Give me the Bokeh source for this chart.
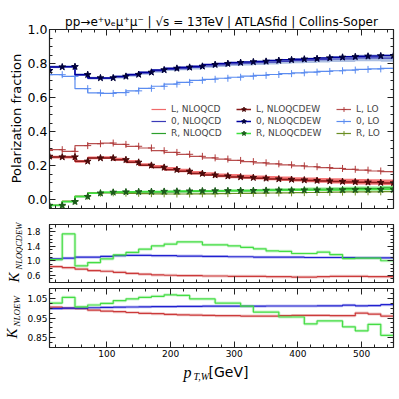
import math
from bokeh.plotting import figure
from bokeh.layouts import column, row
from bokeh.models import (Range1d, SingleIntervalTicker, FixedTicker, LinearAxis, Legend,
                          LegendItem, CustomJSTickFormatter, NumeralTickFormatter)
from bokeh.core.properties import value
from bokeh.embed import file_html
from bokeh.resources import INLINE

# ---------------- data ----------------
pt_w = [10, 30, 50, 70, 90, 110, 130, 150, 170, 190, 210, 230, 250, 270, 290,
        310, 330, 350, 370, 390, 410, 430, 450, 470, 490, 510, 530, 550]

# Polarization fractions
L_qcd = [0.255, 0.251, 0.252, 0.227, 0.247, 0.248, 0.239, 0.225, 0.207, 0.196, 0.183, 0.173, 0.160, 0.151,
         0.145, 0.140, 0.136, 0.132, 0.128, 0.125, 0.121, 0.118, 0.115, 0.112, 0.109, 0.107, 0.105, 0.104]
L_qcd_err = [0.008, 0.008, 0.008, 0.008, 0.008, 0.008, 0.009, 0.009, 0.009, 0.009, 0.010, 0.010, 0.010, 0.011,
             0.011, 0.012, 0.012, 0.012, 0.013, 0.013, 0.013, 0.014, 0.014, 0.015, 0.015, 0.016, 0.016, 0.016]
Z_qcd = [0.760, 0.781, 0.782, 0.735, 0.715, 0.714, 0.722, 0.732, 0.744, 0.757, 0.766, 0.771, 0.777, 0.786,
         0.792, 0.798, 0.802, 0.805, 0.809, 0.813, 0.817, 0.820, 0.823, 0.827, 0.828, 0.833, 0.834, 0.832]
Z_qcd_err = [0.008, 0.008, 0.008, 0.008, 0.008, 0.008, 0.009, 0.009, 0.009, 0.010, 0.010, 0.010, 0.011, 0.011,
             0.012, 0.012, 0.013, 0.013, 0.014, 0.014, 0.015, 0.016, 0.016, 0.017, 0.018, 0.019, 0.020, 0.021]
R_qcd = [-0.031, -0.031, -0.009, 0.020, 0.040, 0.044, 0.046, 0.046, 0.047, 0.047, 0.048, 0.049, 0.051, 0.051,
         0.053, 0.054, 0.054, 0.057, 0.058, 0.060, 0.061, 0.063, 0.063, 0.064, 0.066, 0.068, 0.067, 0.071]
R_qcd_err = [0.004, 0.004, 0.004, 0.004, 0.004, 0.005, 0.005, 0.005, 0.005, 0.006, 0.006, 0.006, 0.007, 0.007,
             0.007, 0.008, 0.008, 0.008, 0.009, 0.009, 0.009, 0.010, 0.010, 0.010, 0.011, 0.011, 0.012, 0.012]

L_ew = [0.256, 0.252, 0.252, 0.227, 0.246, 0.246, 0.236, 0.221, 0.203, 0.191, 0.178, 0.168, 0.155, 0.146,
        0.140, 0.135, 0.131, 0.127, 0.123, 0.120, 0.117, 0.114, 0.111, 0.108, 0.106, 0.104, 0.102, 0.100]
Z_ew = [0.759, 0.780, 0.782, 0.735, 0.716, 0.716, 0.725, 0.736, 0.749, 0.763, 0.772, 0.778, 0.784, 0.794,
        0.800, 0.806, 0.810, 0.813, 0.818, 0.822, 0.826, 0.829, 0.833, 0.837, 0.840, 0.843, 0.845, 0.847]
R_ew = [-0.032, -0.032, -0.010, 0.020, 0.040, 0.045, 0.047, 0.048, 0.049, 0.050, 0.051, 0.052, 0.053, 0.053,
        0.054, 0.055, 0.055, 0.056, 0.057, 0.057, 0.058, 0.058, 0.059, 0.059, 0.060, 0.060, 0.061, 0.061]

L_lo = [0.290, 0.295, 0.285, 0.319, 0.330, 0.334, 0.326, 0.315, 0.305, 0.289, 0.279, 0.268, 0.256, 0.247,
        0.240, 0.232, 0.225, 0.218, 0.212, 0.206, 0.200, 0.195, 0.190, 0.185, 0.180, 0.175, 0.170, 0.166]
Z_lo = [0.735, 0.735, 0.725, 0.653, 0.628, 0.625, 0.630, 0.640, 0.655, 0.667, 0.680, 0.690, 0.702, 0.708,
        0.714, 0.720, 0.726, 0.731, 0.736, 0.741, 0.746, 0.750, 0.754, 0.758, 0.762, 0.766, 0.769, 0.772]
R_lo = [-0.032, -0.031, -0.006, 0.023, 0.040, 0.042, 0.040, 0.039, 0.037, 0.036, 0.035, 0.035, 0.036, 0.036,
        0.037, 0.038, 0.039, 0.040, 0.041, 0.042, 0.043, 0.044, 0.045, 0.046, 0.047, 0.048, 0.048, 0.049]

# K factor NLOQCDEW / LO
K_qcdew_L = [0.86, 0.84, 0.81, 0.77, 0.73, 0.71, 0.68, 0.65, 0.63, 0.61, 0.60, 0.59, 0.59, 0.58,
             0.58, 0.57, 0.57, 0.57, 0.56, 0.56, 0.55, 0.55, 0.56, 0.57, 0.57, 0.57, 0.56, 0.56]
K_qcdew_0 = [1.04, 1.05, 1.07, 1.10, 1.10, 1.12, 1.14, 1.15, 1.15, 1.14, 1.14, 1.13, 1.13, 1.12,
             1.12, 1.11, 1.11, 1.10, 1.10, 1.10, 1.10, 1.09, 1.09, 1.09, 1.09, 1.08, 1.08, 1.08]
K_qcdew_R = [1.03, 1.03, 1.74, 0.86, 0.95, 1.05, 1.16, 1.23, 1.32, 1.41, 1.46, 1.52, 1.52, 1.44,
             1.44, 1.41, 1.37, 1.33, 1.27, 1.26, 1.20, 1.20, 1.24, 1.17, 1.06, 1.07, 1.07, 1.00]

# K factor NLOEW
K_ew_L = [1.005, 1.005, 1.000, 0.998, 0.990, 0.985, 0.982, 0.978, 0.974, 0.972, 0.968, 0.966, 0.965, 0.963,
          0.962, 0.962, 0.960, 0.960, 0.960, 0.962, 0.963, 0.963, 0.963, 0.962, 0.962, 0.975, 0.970, 0.960]
K_ew_0 = [0.998, 0.998, 1.000, 1.000, 1.002, 1.004, 1.005, 1.006, 1.007, 1.008, 1.008, 1.009, 1.009, 1.010,
          1.010, 1.010, 1.010, 1.010, 1.011, 1.011, 1.011, 1.011, 1.012, 1.012, 1.015, 1.012, 1.013, 1.018]
K_ew_R = [1.026, 1.026, 1.055, 1.007, 1.016, 1.024, 1.038, 1.047, 1.055, 1.060, 1.068, 1.065, 1.047, 1.047,
          1.026, 1.026, 1.010, 0.980, 0.980, 0.955, 0.955, 0.920, 0.935, 0.935, 0.905, 0.885, 0.918, 0.862]

# tick positions
kqcd_ticks = [0.6, 1.0, 1.4, 1.8]
kqcd_minor = [0.4, 0.5, 0.7, 0.8, 0.9, 1.1, 1.2, 1.3, 1.5, 1.6, 1.7, 1.9, 2.0]
kew_ticks = [0.85, 0.95, 1.05]
kew_minor = [0.8, 0.825, 0.875, 0.9, 0.925, 0.975, 1.0, 1.025, 1.075, 1.1]

title_text = "pp\u2192e\u207a\u03bd\u2091\u03bc\u207a\u03bc\u207b | \u221as = 13TeV | ATLASfid | Collins-Soper"

# ---------------- helpers ----------------
AX = "#222222"
FRAME_W = 344
LEFT_W = 23      # width of the label strip
BORDER_L = 23    # axis border of each panel
P1_TOP, P1_BOT = 29, 8
P2_TOP, P2_BOT = 8, 3
P3_TOP, P3_BOT = 3, 14


def make_fig(fh, yr, top, bottom):
    p = figure(frame_width=FRAME_W, frame_height=fh, x_range=Range1d(10, 550), y_range=Range1d(*yr),
               output_backend="svg", toolbar_location=None,
               min_border_left=BORDER_L, min_border_right=4, min_border_top=top, min_border_bottom=bottom)
    p.grid.visible = False
    p.outline_line_color = AX
    p.outline_line_width = 1.2
    p.background_fill_color = "white"
    p.border_fill_color = "white"
    return p


def style_axis(ax, ticker, show, size="9px", standoff=3, fmt=None):
    ax.ticker = ticker
    ax.axis_label = None
    ax.axis_label_standoff = 0
    ax.axis_line_color = AX
    ax.major_tick_in = 6
    ax.major_tick_out = 0
    ax.minor_tick_in = 3
    ax.minor_tick_out = 0
    ax.major_tick_line_color = AX
    ax.minor_tick_line_color = AX
    if show:
        if fmt:
            ax.formatter = NumeralTickFormatter(format=fmt)
        ax.major_label_text_font = "DejaVu Sans"
        ax.major_label_text_font_size = size
        ax.major_label_standoff = standoff
        ax.major_label_text_color = "black"
    else:
        ax.formatter = CustomJSTickFormatter(code="return ''")
        ax.major_label_text_font_size = "1px"
        ax.major_label_standoff = -10


def xticker():
    return SingleIntervalTicker(interval=100, num_minor_ticks=5)


def frame_axes(p, yticker_fn, xshow, ysize, ystand, yfmt):
    style_axis(p.xaxis[0], xticker(), xshow, "9px", 2)
    style_axis(p.yaxis[0], yticker_fn(), True, ysize, ystand, yfmt)
    top = LinearAxis()
    style_axis(top, xticker(), False)
    p.add_layout(top, "above")
    right = LinearAxis()
    style_axis(right, yticker_fn(), False)
    p.add_layout(right, "right")


def text_fig(w, h, x0, y0):
    f = figure(frame_width=w, frame_height=h, x_range=Range1d(x0, x0 + w), y_range=Range1d(y0 + h, y0),
               output_backend="svg", toolbar_location=None, x_axis_location=None, y_axis_location=None,
               min_border=0, min_border_left=0, min_border_right=0, min_border_top=0, min_border_bottom=0)
    f.grid.visible = False
    f.outline_line_color = None
    f.background_fill_color = "white"
    f.border_fill_color = "white"
    return f


def put_text(f, x, y, t, font, size, style="normal", align="left", baseline="middle", angle=0.0):
    f.text(x=[x], y=[y], text=[t], text_font=value(font), text_font_size=value(size),
           text_font_style=style, text_align=align, text_baseline=baseline, angle=angle,
           text_color="black")


# ---------------- main panel ----------------
p1 = make_fig(179, (-0.05, 1.0), P1_TOP, P1_BOT)
p1.title.text = title_text
p1.title.align = "center"
p1.title.text_font = "DejaVu Sans"
p1.title.text_font_size = "12px"
p1.title.text_font_style = "normal"
p1.title.text_color = "black"
p1.title.standoff = 1
frame_axes(p1, lambda: SingleIntervalTicker(interval=0.2, num_minor_ticks=4), False, "12.5px", 2, "0.0")

for c, e, col, a in [(L_qcd, L_qcd_err, "#f03030", 0.65), (Z_qcd, Z_qcd_err, "#6a8acb", 0.55),
                     (R_qcd, R_qcd_err, "#40dd40", 0.6)]:
    lo = [ci - ei for ci, ei in zip(c, e)]
    hi = [ci + ei for ci, ei in zip(c, e)]
    p1.varea_step(x=pt_w, y1=lo, y2=hi, step_mode="before", fill_color=col, fill_alpha=a)

rLq = p1.step(pt_w, L_qcd, mode="before", line_color="#f06a6a", line_width=1.2)
rZq = p1.step(pt_w, Z_qcd, mode="before", line_color="#3a3ab8", line_width=1.2)
rRq = p1.step(pt_w, R_qcd, mode="before", line_color="#2ca02c", line_width=1.2)

rLl = p1.step(pt_w, L_lo, mode="before", line_color="#b03c3c", line_width=1.2, line_alpha=0.9)
rZl = p1.step(pt_w, Z_lo, mode="before", line_color="#5b8cf0", line_width=1.2)
rRl = p1.step(pt_w, R_lo, mode="before", line_color="#6b8e23", line_width=1.2)
mLl = p1.scatter(pt_w, L_lo, marker="cross", size=7, line_color="#b03c3c", line_width=1)
mZl = p1.scatter(pt_w, Z_lo, marker="cross", size=7, line_color="#5b8cf0", line_width=1)
mRl = p1.scatter(pt_w, R_lo, marker="cross", size=7, line_color="#6b8e23", line_width=1)

rLe = p1.step(pt_w, L_ew, mode="before", line_color="#8b1a1a", line_width=1.5)
rZe = p1.step(pt_w, Z_ew, mode="before", line_color="#0000a0", line_width=1.5)
rRe = p1.step(pt_w, R_ew, mode="before", line_color="#3ee03e", line_width=1.5)
mLe = p1.scatter(pt_w, L_ew, marker="star", size=7, fill_color="#4a0a0a", line_color="#4a0a0a")
mZe = p1.scatter(pt_w, Z_ew, marker="star", size=7, fill_color="#00003a", line_color="#00003a")
mRe = p1.scatter(pt_w, R_ew, marker="star", size=7, fill_color="#1a5a1a", line_color="#1a5a1a")


def legend(items, x, y):
    lg = Legend(items=items, location=(x, y), orientation="vertical", padding=0, margin=0,
                spacing=0, label_height=12, glyph_height=12, glyph_width=15, label_standoff=5,
                label_text_font="DejaVu Sans", label_text_font_size="9px",
                label_text_baseline="middle", background_fill_alpha=0, border_line_alpha=0)
    p1.add_layout(lg)


legend([LegendItem(label="L, NLOQCD", renderers=[rLq]),
        LegendItem(label="0, NLOQCD", renderers=[rZq]),
        LegendItem(label="R, NLOQCD", renderers=[rRq])], 102, 69)
legend([LegendItem(label="L, NLOQCDEW", renderers=[rLe, mLe]),
        LegendItem(label="0, NLOQCDEW", renderers=[rZe, mZe]),
        LegendItem(label="R, NLOQCDEW", renderers=[rRe, mRe])], 187, 69)
legend([LegendItem(label="L, LO", renderers=[rLl, mLl]),
        LegendItem(label="0, LO", renderers=[rZl, mZl]),
        LegendItem(label="R, LO", renderers=[rRl, mRl])], 287, 69)

# ---------------- K NLOQCDEW panel ----------------
p2 = make_fig(58, (0.4, 2.0), P2_TOP, P2_BOT)
frame_axes(p2, lambda: FixedTicker(ticks=kqcd_ticks, minor_ticks=kqcd_minor), False, "8.5px", 9, "0.0")
for ys, col in [(K_qcdew_L, "#cc3a3a"), (K_qcdew_0, "#2020d0"), (K_qcdew_R, "#44dd44")]:
    p2.step(pt_w, ys, mode="before", line_color=col, line_width=3, line_alpha=0.25)
    p2.step(pt_w, ys, mode="before", line_color=col, line_width=1.2)

# ---------------- K NLOEW panel ----------------
p3 = make_fig(59, (0.8, 1.1), P3_TOP, P3_BOT)
frame_axes(p3, lambda: FixedTicker(ticks=kew_ticks, minor_ticks=kew_minor), True, "9px", 2, "0.00")
for ys, col in [(K_ew_L, "#cc3a3a"), (K_ew_0, "#2020d0"), (K_ew_R, "#44dd44")]:
    p3.step(pt_w, ys, mode="before", line_color=col, line_width=3, line_alpha=0.25)
    p3.step(pt_w, ys, mode="before", line_color=col, line_width=1.2)

# ---------------- text strips ----------------
COL_H = (P1_TOP + 179 + P1_BOT) + (P2_TOP + 58 + P2_BOT) + (P3_TOP + 59 + P3_BOT)
TOTAL_W = LEFT_W + BORDER_L + FRAME_W + 4

left_fig = text_fig(LEFT_W, COL_H, 0, 0)
put_text(left_fig, 15.5, 118, "Polarization fraction", "DejaVu Sans", "13px", align="center",
         angle=math.pi / 2)
put_text(left_fig, 13.5, 282, "K", "Liberation Serif", "15px", style="italic", angle=math.pi / 2)
put_text(left_fig, 18.0, 269, "NLOQCDEW", "Liberation Serif", "8.5px", style="italic", angle=math.pi / 2)
put_text(left_fig, 11.5, 338, "K", "Liberation Serif", "15px", style="italic", angle=math.pi / 2)
put_text(left_fig, 16.5, 326, "NLOEW", "Liberation Serif", "9px", style="italic", angle=math.pi / 2)

bot_y0 = COL_H
bot_fig = text_fig(TOTAL_W, 28, 0, bot_y0)
put_text(bot_fig, 183, 372, "p", "Liberation Serif", "16px", style="italic")
put_text(bot_fig, 193, 376, "T,W", "Liberation Serif", "10px", style="italic")
put_text(bot_fig, 208, 371, "[GeV]", "DejaVu Sans", "14px")

body = row(left_fig, column(p1, p2, p3, spacing=0), spacing=0)
layout = column(body, bot_fig, spacing=0)
open("out.html", "w").write(file_html(layout, INLINE))
